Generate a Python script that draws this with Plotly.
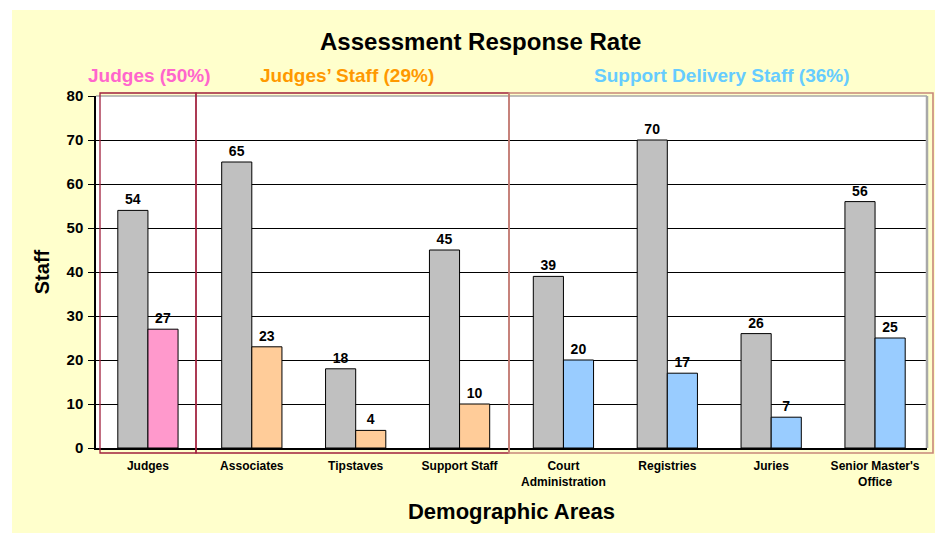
import plotly.graph_objects as go

categories = ["Judges", "Associates", "Tipstaves", "Support Staff",
              "Court<br>Administration", "Registries", "Juries", "Senior Master's<br>Office"]
total_staff = [54, 65, 18, 45, 39, 70, 26, 56]
responses = [27, 23, 4, 10, 20, 17, 7, 25]
response_colors = ["#FF99CC", "#FFCC99", "#FFCC99", "#FFCC99",
                   "#99CCFF", "#99CCFF", "#99CCFF", "#99CCFF"]
y_ticks = [0, 10, 20, 30, 40, 50, 60, 70, 80]

FONT = "Arial, Liberation Sans, sans-serif"
W, H = 935, 533
L, R, T, B = 96, 8, 96, 85
PW, PH = W - L - R, H - T - B


def px(x):
    return (x - L) / PW


def py(y):
    return (H - B - y) / PH


fig = go.Figure()
fig.add_trace(go.Bar(
    x=categories, y=total_staff, name="Staff",
    marker=dict(color="#C0C0C0", line=dict(color="black", width=1)),
    texttemplate="<b>%{y}</b>", textposition="outside",
    textfont=dict(family=FONT, size=14, color="black"),
    cliponaxis=False,
))
fig.add_trace(go.Bar(
    x=categories, y=responses, name="Responses",
    marker=dict(color=response_colors, line=dict(color="black", width=1)),
    texttemplate="<b>%{y}</b>", textposition="outside",
    textfont=dict(family=FONT, size=14, color="black"),
    cliponaxis=False,
))

shapes = [
    # white outer strips
    dict(type="rect", xref="paper", yref="paper", x0=px(0), x1=px(12), y0=py(H), y1=py(0),
         fillcolor="white", line=dict(width=0), layer="below"),
    dict(type="rect", xref="paper", yref="paper", x0=px(0), x1=px(W), y0=py(10), y1=py(0),
         fillcolor="white", line=dict(width=0), layer="below"),
    # plot border (grey top/right)
    dict(type="line", xref="paper", yref="paper", x0=0, x1=1, y0=1, y1=1,
         line=dict(color="#A8A8A8", width=1.5)),
    dict(type="line", xref="paper", yref="paper", x0=1, x1=1, y0=0, y1=1,
         line=dict(color="#A8A8A8", width=2.5)),
    # group boxes
    dict(type="rect", xref="paper", yref="paper", x0=px(100), x1=px(196), y0=py(453), y1=py(93),
         line=dict(color="#A0203C", width=1.3)),
    dict(type="rect", xref="paper", yref="paper", x0=px(196), x1=px(509), y0=py(453), y1=py(93),
         line=dict(color="#A0203C", width=1.3)),
    dict(type="rect", xref="paper", yref="paper", x0=px(509), x1=px(933), y0=py(453), y1=py(93),
         line=dict(color="#C8887A", width=1.6)),
]

annotations = [
    dict(text="<b>Assessment Response Rate</b>", x=px(480), y=py(41), xref="paper", yref="paper",
         showarrow=False, font=dict(family=FONT, size=24, color="black"), xanchor="center", yanchor="middle"),
    dict(text="<b>Judges (50%)</b>", x=px(149), y=py(75), xref="paper", yref="paper",
         showarrow=False, font=dict(family=FONT, size=19, color="#FF66CC"), xanchor="center", yanchor="middle"),
    dict(text="<b>Judges\u2019 Staff (29%)</b>", x=px(347), y=py(75), xref="paper", yref="paper",
         showarrow=False, font=dict(family=FONT, size=19, color="#FF9900"), xanchor="center", yanchor="middle"),
    dict(text="<b>Support Delivery Staff (36%)</b>", x=px(722), y=py(75), xref="paper", yref="paper",
         showarrow=False, font=dict(family=FONT, size=19, color="#66CCFF"), xanchor="center", yanchor="middle"),
]

fig.update_layout(
    width=W, height=H,
    margin=dict(l=L, r=R, t=T, b=B, pad=0),
    paper_bgcolor="#FFFFCC", plot_bgcolor="white",
    barmode="group", bargap=0.42, bargroupgap=0,
    showlegend=False,
    font=dict(family=FONT, color="black"),
    shapes=shapes, annotations=annotations,
    xaxis=dict(
        showline=True, linecolor="black", linewidth=1.5,
        tickfont=dict(family=FONT, size=12, color="black"),
        tickprefix="<b>", ticksuffix="</b>",
        ticklabelstandoff=6,
        title=dict(text="<b>Demographic Areas</b>", font=dict(family=FONT, size=22, color="black"), standoff=16),
        showgrid=False, ticks="",
    ),
    yaxis=dict(
        range=[0, 80], tickvals=y_ticks,
        ticktext=[f"<b>{v}</b>" for v in y_ticks],
        showline=True, linecolor="black", linewidth=1.5,
        ticks="outside", ticklen=6, tickcolor="black",
        ticklabelstandoff=2,
        tickfont=dict(family=FONT, size=15, color="black"),
        showgrid=True, gridcolor="black", gridwidth=1,
        zeroline=False,
        title=dict(text="<b>Staff</b>", font=dict(family=FONT, size=20, color="black"), standoff=12),
    ),
)

fig.write_html("out.html")
